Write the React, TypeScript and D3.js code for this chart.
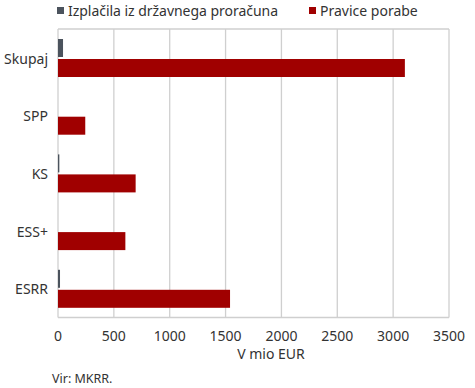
import * as d3 from 'd3';

const categories = ['Skupaj', 'SPP', 'KS', 'ESS+', 'ESRR'];
const seriesNames = ['Izplačila iz državnega proračuna', 'Pravice porabe'];
const izplacila = [45, 0, 12, 0, 18];
const pravice = [3105, 244, 695, 603, 1540];
const xTicks = [0, 500, 1000, 1500, 2000, 2500, 3000, 3500];
const colors = ['#4b535d', '#a00000'];

const width = 475;
const height = 388;
const left = 58;
const right = 449;
const top = 29;
const bottom = 317.5;
const font = '"Noto Sans", sans-serif';

export default function App() {
  const x = d3.scaleLinear().domain([0, 3500]).range([left, right]);
  const y0 = d3.scaleBand<string>().domain(categories).range([top, bottom]);
  const y1 = d3.scaleBand<string>().domain(seriesNames).range([10, 48]).paddingInner(0.1);
  const values = [izplacila, pravice];

  return (
    <svg width={width} height={height} style={{ position: 'absolute', left: 0, top: 0 }} fontFamily={font}>
      <rect width={width} height={height} fill="#fff" />
      {/* legend */}
      <rect x={57} y={7} width={7} height={7} fill={colors[0]} />
      <text x={68} y={15.5} fontSize={14} fill="#333" textLength={210}>{seriesNames[0]}</text>
      <rect x={309} y={7} width={7} height={7} fill={colors[1]} />
      <text x={320} y={15.5} fontSize={14} fill="#333">{seriesNames[1]}</text>

      {/* grid */}
      {xTicks.map(t => (
        <line key={t} x1={x(t)} x2={x(t)} y1={top} y2={bottom} stroke="#cfcfcf" strokeWidth={1.3} />
      ))}
      <line x1={left} x2={right} y1={top} y2={top} stroke="#cfcfcf" strokeWidth={1.3} />
      <line x1={left} x2={right} y1={bottom} y2={bottom} stroke="#cfcfcf" strokeWidth={1.3} />

      {/* bars */}
      {categories.map((c, i) => (
        <g key={c} transform={`translate(0,${y0(c)})`}>
          {seriesNames.map((s, j) => (
            values[j][i] > 0 ? (
              <rect key={s} x={x(0)} y={y1(s)} width={x(values[j][i]) - x(0)} height={y1.bandwidth()} fill={colors[j]} />
            ) : null
          ))}
          <text x={48} y={(y0.bandwidth()) / 2 + 2} textAnchor="end" dominantBaseline="middle" fontSize={14} fill="#333">{c}</text>
        </g>
      ))}

      {/* x tick labels */}
      {xTicks.map(t => (
        <text key={t} x={x(t)} y={341} textAnchor="middle" fontSize={14} fill="#333">{t}</text>
      ))}
      <text x={271} y={359} textAnchor="middle" fontSize={14} fill="#333">V mio EUR</text>
      <text x={52} y={383} fontSize={12.5} fill="#333">Vir: MKRR.</text>
    </svg>
  );
}
